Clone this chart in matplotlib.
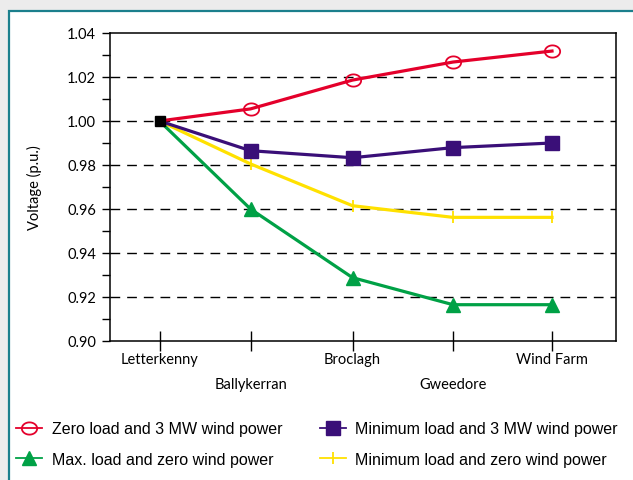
import matplotlib
matplotlib.use("Agg")
import matplotlib.pyplot as plt
import numpy as np
from matplotlib.path import Path
from matplotlib.lines import Line2D
from matplotlib.patches import Rectangle
from matplotlib.ticker import MultipleLocator

# ---- data ----
stations = ["Letterkenny", "Ballykerran", "Broclagh", "Gweedore", "Wind Farm"]
station_pos = [0.0, 0.91, 1.93, 2.935, 3.925]
zero_load_3mw = [1.000, 1.0055, 1.0186, 1.0268, 1.0318]
min_load_3mw = [1.000, 0.9865, 0.9833, 0.9879, 0.9900]
max_load_zero_wind = [1.000, 0.9600, 0.9288, 0.9165, 0.9165]
min_load_zero_wind = [1.000, 0.9805, 0.9615, 0.9562, 0.9562]
series_labels = ["Zero load and 3 MW wind power", "Minimum load and 3 MW wind power",
                 "Max. load and zero wind power", "Minimum load and zero wind power"]
y_ticks = [0.90, 0.92, 0.94, 0.96, 0.98, 1.00, 1.02, 1.04]

RED = "#e4002b"
PURPLE = "#3a0f78"
GREEN = "#00a146"
YELLOW = "#ffe100"

fig = plt.figure(figsize=(6.33, 4.81), dpi=100)
fig.patch.set_facecolor("#ececec")
# white panel with teal border
panel = Rectangle((9/633, -0.1), 1.2, (481-12)/481 + 0.1, transform=fig.transFigure,
                  facecolor="white", edgecolor="#1b7f8c", linewidth=1.6, zorder=-5)
fig.patches.append(panel)

ax = fig.add_axes([110/633, 1-342/481, (616-110)/633, (342-34)/481])
ax.set_facecolor("white")

# ellipse marker
t = np.linspace(0, 2*np.pi, 60)
ell = Path(np.column_stack([1.25*np.cos(t), np.sin(t)]), closed=True)

lw = 2.3
ax.plot(station_pos, zero_load_3mw, color=RED, lw=lw, marker=ell, markersize=11,
        markerfacecolor="none", markeredgecolor=RED, markeredgewidth=1.3, markevery=[1, 2, 3, 4], zorder=5)
ax.plot(station_pos, min_load_3mw, color=PURPLE, lw=lw, marker="s", markersize=10,
        markevery=[1, 2, 3, 4], zorder=4)
ax.plot(station_pos, min_load_zero_wind, color=YELLOW, lw=lw, marker="|", markersize=9,
        markeredgewidth=1.3, markevery=[1, 2, 3, 4], zorder=3)
ax.plot(station_pos, max_load_zero_wind, color=GREEN, lw=lw, marker="^", markersize=10,
        markevery=[1, 2, 3, 4], zorder=3)
ax.plot(station_pos[0], zero_load_3mw[0], marker="s", color="black", markersize=7, zorder=6, ls="none")

ax.set_xlim(-0.495, 4.565)
ax.set_ylim(0.90, 1.04)
ax.yaxis.set_major_locator(MultipleLocator(0.02))
ax.yaxis.set_minor_locator(MultipleLocator(0.01))
ax.set_yticks(y_ticks)
ax.set_yticklabels([f"{v:.2f}" for v in y_ticks], fontfamily="Lato", fontsize=10.5)
for v in y_ticks[1:-1]:
    ax.axhline(v, color="black", lw=1.0, ls=(0, (7, 5)), zorder=1)

ax.set_xticks(station_pos)
ax.set_xticklabels([s if i % 2 == 0 else "\n" + s for i, s in enumerate(stations)],
                   fontfamily="Lato", fontsize=10.5, linespacing=2.0)
ax.tick_params(axis="x", direction="inout", length=14, width=1, pad=1)
ax.tick_params(axis="y", which="major", direction="out", length=6, width=1, pad=4)
ax.tick_params(axis="y", which="minor", direction="out", length=6, width=1)
for sp in ax.spines.values():
    sp.set_linewidth(1.1)
ax.set_ylabel("Voltage (p.u.)", fontfamily="Lato", fontsize=10.5, labelpad=18)

handles = [
    Line2D([], [], color=RED, lw=1.3, marker=ell, markersize=11, markerfacecolor="none",
           markeredgecolor=RED, markeredgewidth=1.3),
    Line2D([], [], color=GREEN, lw=1.3, marker="^", markersize=10),
    Line2D([], [], color=PURPLE, lw=1.3, marker="s", markersize=10),
    Line2D([], [], color=YELLOW, lw=1.3, marker="|", markersize=9, markeredgewidth=1.3),
]
labels = [series_labels[0], series_labels[2], series_labels[1], series_labels[3]]
fig.legend(handles, labels, ncol=2, loc="upper left", bbox_to_anchor=(2/633, 1-408/481),
           frameon=False, prop={"family": "Liberation Sans", "size": 11.5},
           handlelength=1.6, handletextpad=0.6, columnspacing=2.4, labelspacing=0.95)

fig.savefig("out.png", dpi=100, facecolor=fig.get_facecolor())
